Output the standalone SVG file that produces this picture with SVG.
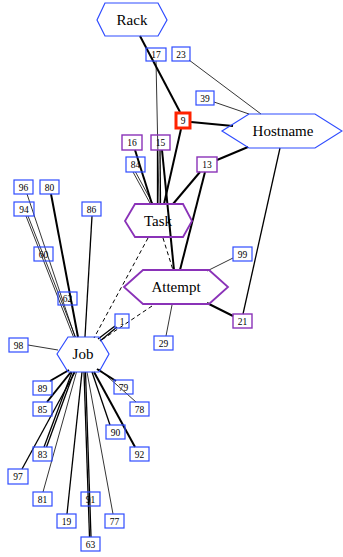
<svg xmlns="http://www.w3.org/2000/svg" width="343" height="557" viewBox="0 0 343 557">
  <style>
    .bg { fill: #ffffff; }
    .e { stroke: #000000; fill: none; stroke-width: 0.8; }
    .e.m { stroke-width: 1.3; }
    .e.t { stroke-width: 2; }
    .e.d { stroke-width: 1; stroke-dasharray: 4 3; }
    .hexb { fill: none; stroke: #2f4cff; stroke-width: 1.2; }
    .hexp { fill: none; stroke: #8a32b8; stroke-width: 1.8; }
    .bb { fill: none; stroke: #2f4cff; stroke-width: 1.2; }
    .bp { fill: none; stroke: #8a32b8; stroke-width: 1.4; }
    .br { fill: none; stroke: #ff2200; stroke-width: 3; }
    .lbl { font-family: "Liberation Serif", "Times New Roman", serif; font-size: 15px; text-anchor: middle; fill: #000000; }
    .num { font-family: "Liberation Serif", "Times New Roman", serif; font-size: 9.5px; text-anchor: middle; fill: #000000; }
  </style>
  <rect class="bg" x="0" y="0" width="343" height="557"/>

  <g id="edges">
    <!-- upper cluster -->
    <line class="e t" x1="140" y1="36" x2="180" y2="112"/>
    <line class="e" x1="156" y1="61" x2="159" y2="204"/>
    <line class="e" x1="189" y1="60" x2="261" y2="114"/>
    <line class="e" x1="214" y1="102" x2="249" y2="114"/>
    <line class="e t" x1="191" y1="122" x2="233" y2="126"/>
    <line class="e t" x1="217" y1="160" x2="248" y2="147"/>
    <line class="e m" x1="280" y1="148" x2="243" y2="314"/>
    <line class="e t" x1="181" y1="129" x2="164" y2="204"/>
    <line class="e t" x1="135" y1="150" x2="152" y2="204"/>
    <line class="e" x1="133" y1="172" x2="150.5" y2="204"/>
    <line class="e" x1="135.5" y1="172" x2="153" y2="204"/>
    <line class="e m" x1="157.5" y1="150" x2="157.5" y2="204"/>
    <line class="e m" x1="160" y1="150" x2="160.5" y2="204"/>
    <line class="e t" x1="162" y1="150" x2="174" y2="270"/>
    <line class="e t" x1="200" y1="172" x2="173" y2="204"/>
    <line class="e t" x1="205" y1="172" x2="180" y2="270"/>
    <line class="e d" x1="163" y1="238" x2="173" y2="270"/>
    <line class="e d" x1="148" y1="238" x2="94" y2="338"/>
    <line class="e d" x1="152" y1="306" x2="100" y2="341"/>
    <line class="e m" x1="115" y1="326" x2="98" y2="339"/>
    <line class="e m" x1="117" y1="327" x2="100" y2="341"/>
    <line class="e" x1="207" y1="271" x2="233" y2="258"/>
    <line class="e t" x1="207" y1="303" x2="233" y2="316"/>
    <line class="e" x1="172" y1="305" x2="166" y2="336"/>
    <!-- into Job from above -->
    <line class="e" x1="28" y1="345" x2="58" y2="350"/>
    <line class="e" x1="27" y1="194" x2="75" y2="337"/>
    <line class="e" x1="26" y1="216" x2="73.5" y2="337"/>
    <line class="e" x1="28" y1="216" x2="75.5" y2="337"/>
    <line class="e t" x1="51" y1="194" x2="78" y2="337"/>
    <line class="e m" x1="92" y1="216" x2="85" y2="337"/>
    <!-- out of Job below -->
    <line class="e t" x1="69" y1="370" x2="50" y2="381"/>
    <line class="e t" x1="71" y1="372" x2="47" y2="402"/>
    <line class="e m" x1="72" y1="372" x2="44" y2="447"/>
    <line class="e m" x1="74" y1="372" x2="46.5" y2="447"/>
    <line class="e m" x1="75" y1="372" x2="22" y2="469"/>
    <line class="e" x1="76.5" y1="372" x2="43" y2="492"/>
    <line class="e m" x1="82" y1="372" x2="67" y2="514"/>
    <line class="e m" x1="84" y1="372" x2="89.5" y2="537"/>
    <line class="e m" x1="85.5" y1="372" x2="91" y2="537"/>
    <line class="e" x1="87" y1="372" x2="113" y2="514"/>
    <line class="e m" x1="92" y1="372" x2="110" y2="425"/>
    <line class="e t" x1="94" y1="372" x2="135" y2="447"/>
    <line class="e" x1="99" y1="369" x2="136" y2="402"/>
    <line class="e t" x1="97" y1="369" x2="116" y2="381"/>
  </g>

  <!-- hexagon nodes -->
  <g id="rack">
    <polygon class="hexb" points="97,20 105,3 158,3 167,20 158,36 105,36"/>
    <text class="lbl" x="132" y="25">Rack</text>
  </g>
  <g id="hostname">
    <polygon class="hexb" points="222,131 249,114 315,114 342,131 315,148 249,148"/>
    <text class="lbl" x="283" y="136">Hostname</text>
  </g>
  <g id="task">
    <polygon class="hexp" points="125,221 135,204 183,204 192,221 183,237 135,237"/>
    <text class="lbl" x="158" y="226">Task</text>
  </g>
  <g id="attempt">
    <polygon class="hexp" points="124,287 143,270 209,270 228,287 209,304 143,304"/>
    <text class="lbl" x="176" y="292">Attempt</text>
  </g>
  <g id="job">
    <polygon class="hexb" points="57,354 68,337 99,337 109,354 99,372 68,372"/>
    <text class="lbl" x="83" y="359">Job</text>
  </g>

  <!-- numbered box nodes -->
  <g id="n17"><rect class="bb" x="146" y="48" width="20" height="13"/><text class="num" x="156" y="58">17</text></g>
  <g id="n23"><rect class="bb" x="172" y="47" width="18" height="14"/><text class="num" x="181" y="57.5">23</text></g>
  <g id="n39"><rect class="bb" x="196" y="91" width="18" height="14"/><text class="num" x="205" y="101.5">39</text></g>
  <g id="n9"><rect class="br" x="176" y="113" width="14" height="15"/><text class="num" x="183" y="124">9</text></g>
  <g id="n16"><rect class="bp" x="122" y="135" width="20" height="15"/><text class="num" x="132" y="146">16</text></g>
  <g id="n15"><rect class="bp" x="151" y="135" width="19" height="15"/><text class="num" x="160.5" y="146">15</text></g>
  <g id="n84"><rect class="bb" x="126" y="157" width="19" height="15"/><text class="num" x="135.5" y="168">84</text></g>
  <g id="n13"><rect class="bp" x="197" y="157" width="20" height="15"/><text class="num" x="207" y="168">13</text></g>
  <g id="n96"><rect class="bb" x="14" y="180" width="19" height="14"/><text class="num" x="23.5" y="190.5">96</text></g>
  <g id="n80"><rect class="bb" x="40" y="180" width="19" height="14"/><text class="num" x="49.5" y="190.5">80</text></g>
  <g id="n94"><rect class="bb" x="14" y="202" width="20" height="14"/><text class="num" x="24" y="212.5">94</text></g>
  <g id="n86"><rect class="bb" x="82" y="202" width="19" height="14"/><text class="num" x="91.5" y="212.5">86</text></g>
  <g id="n60"><rect class="bb" x="34" y="247" width="19" height="14"/><text class="num" x="43.5" y="257.5">60</text></g>
  <g id="n62"><rect class="bb" x="58" y="292" width="19" height="13"/><text class="num" x="67.5" y="302">62</text></g>
  <g id="n99"><rect class="bb" x="233" y="247" width="19" height="14"/><text class="num" x="242.5" y="257.5">99</text></g>
  <g id="n21"><rect class="bp" x="233" y="314" width="19" height="14"/><text class="num" x="242.5" y="324.5">21</text></g>
  <g id="n1"><rect class="bb" x="115" y="314" width="14" height="14"/><text class="num" x="122" y="324.5">1</text></g>
  <g id="n29"><rect class="bb" x="154" y="336" width="19" height="14"/><text class="num" x="163.5" y="346.5">29</text></g>
  <g id="n98"><rect class="bb" x="9" y="338" width="19" height="14"/><text class="num" x="18.5" y="348.5">98</text></g>
  <g id="n89"><rect class="bb" x="33" y="381" width="19" height="14"/><text class="num" x="42.5" y="391.5">89</text></g>
  <g id="n79"><rect class="bb" x="114" y="380" width="19" height="14"/><text class="num" x="123.5" y="390.5">79</text></g>
  <g id="n85"><rect class="bb" x="33" y="402" width="19" height="14"/><text class="num" x="42.5" y="412.5">85</text></g>
  <g id="n78"><rect class="bb" x="130" y="402" width="19" height="14"/><text class="num" x="139.5" y="412.5">78</text></g>
  <g id="n90"><rect class="bb" x="106" y="425" width="19" height="14"/><text class="num" x="115.5" y="435.5">90</text></g>
  <g id="n83"><rect class="bb" x="33" y="447" width="19" height="14"/><text class="num" x="42.5" y="457.5">83</text></g>
  <g id="n92"><rect class="bb" x="130" y="447" width="19" height="14"/><text class="num" x="139.5" y="457.5">92</text></g>
  <g id="n97"><rect class="bb" x="8" y="469" width="20" height="15"/><text class="num" x="18" y="480">97</text></g>
  <g id="n81"><rect class="bb" x="33" y="492" width="19" height="14"/><text class="num" x="42.5" y="502.5">81</text></g>
  <g id="n91"><rect class="bb" x="81" y="492" width="19" height="14"/><text class="num" x="90.5" y="502.5">91</text></g>
  <g id="n19"><rect class="bb" x="57" y="514" width="19" height="14"/><text class="num" x="66.5" y="524.5">19</text></g>
  <g id="n77"><rect class="bb" x="105" y="514" width="19" height="14"/><text class="num" x="114.5" y="524.5">77</text></g>
  <g id="n63"><rect class="bb" x="81" y="537" width="19" height="14"/><text class="num" x="90.5" y="547.5">63</text></g>
</svg>
